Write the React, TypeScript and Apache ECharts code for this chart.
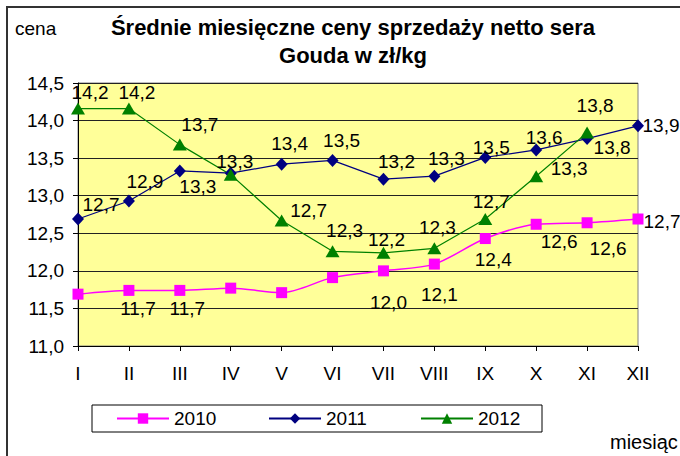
import React, { useEffect, useRef } from "react";
import * as echarts from "echarts";

const months = ["I", "II", "III", "IV", "V", "VI", "VII", "VIII", "IX", "X", "XI", "XII"];
const seriesNames = ["2010", "2011", "2012"];
const sales2010 = [11.69, 11.74, 11.74, 11.77, 11.71, 11.91, 12.0, 12.09, 12.43, 12.62, 12.64, 12.69];
const sales2011 = [12.69, 12.93, 13.33, 13.3, 13.42, 13.47, 13.22, 13.26, 13.51, 13.61, 13.76, 13.93];
const sales2012 = [14.16, 14.16, 13.68, 13.28, 12.67, 12.26, 12.24, 12.3, 12.69, 13.26, 13.84, null];
const yTicks = { min: 11, max: 14.5, interval: 0.5 };
const titleLines = ["Średnie miesięczne ceny sprzedaży netto sera", "Gouda w zł/kg"];

// label offsets (px, relative to point); null = no label
const off2010: ([number, number] | null)[] = [null, [9, 18.5], [7.5, 18.5], null, null, null, [5, 31.5], [5, 30], [8, 21], [23, 17], [21, 26], [24, 2]];
const off2011: ([number, number] | null)[] = [[23, -14.5], [16, -19], [18, 16], null, [8, -21], [9, -20], [13, -18], [12, -18], [6, -10], [8, -12], [25, 9], [23, 0]];
const off2012: ([number, number] | null)[] = [[12, -16], [8, -16], [20, -20], [4, -13], [27, -10], [12, -21], [3, -13], [3, -21], [6, -18], [33, -8], [8, -27], null];
const legendLefts = [116, 268, 420];

const FONT = "'Liberation Sans', Arial, sans-serif";
const fmt = (v: number) => v.toFixed(1).replace(".", ",");

function buildData(values: (number | null)[], offs: ([number, number] | null)[]) {
  return values.map((v, i) => {
    const o = offs[i];
    if (v === null) return null;
    return {
      value: v,
      label: o ? { show: true, offset: o } : { show: false },
    };
  });
}

export default function App() {
  const ref = useRef<HTMLDivElement>(null);
  useEffect(() => {
    if (!ref.current) return;
    const chart = echarts.init(ref.current, undefined, { renderer: "svg" });
    const labelBase = {
      show: true,
      position: "inside",
      color: "#000",
      fontSize: 19,
      fontFamily: FONT,
      align: "center",
      verticalAlign: "middle",
      formatter: (p: any) => fmt(p.value),
    };
    chart.setOption({
      animation: false,
      backgroundColor: "#fff",
      title: {
        text: titleLines.join("\n"),
        left: 348,
        top: 8,
        textAlign: "center",
        textStyle: { fontSize: 22, fontWeight: "bold", fontFamily: FONT, color: "#000", lineHeight: 28 },
      },
      legend: seriesNames.map((name, i) => ({
        data: [name],
        left: legendLefts[i],
        top: 409,
        padding: 0,
        itemWidth: 52,
        itemHeight: 13,
        textStyle: { fontSize: 19, fontFamily: FONT, color: "#000" },
      })),
      grid: {
        left: 78,
        right: 42,
        top: 83,
        bottom: 110,
        show: true,
        backgroundColor: "#FFFF99",
        borderColor: "#808080",
        borderWidth: 1,
        containLabel: false,
      },
      xAxis: {
        type: "category",
        data: months,
        boundaryGap: false,
        axisLine: { lineStyle: { color: "#000", width: 1 } },
        axisTick: { show: true, length: 5, lineStyle: { color: "#000" } },
        axisLabel: { color: "#000", fontSize: 19, fontFamily: FONT, margin: 18 },
        splitLine: { show: false },
      },
      yAxis: {
        type: "value",
        min: yTicks.min,
        max: yTicks.max,
        interval: yTicks.interval,
        axisLine: { show: true, lineStyle: { color: "#000", width: 1 } },
        axisTick: { show: true, length: 5, lineStyle: { color: "#000" } },
        axisLabel: { color: "#000", fontSize: 19, fontFamily: FONT, margin: 14, formatter: (v: number) => fmt(v) },
        splitLine: { show: true, lineStyle: { color: "#222", width: 1 } },
      },
      series: [
        {
          name: seriesNames[0],
          type: "line",
          data: buildData(sales2010, off2010),
          smooth: 0.3,
          clip: false,
          symbol: "rect",
          symbolSize: 11,
          color: "#FF00FF",
          lineStyle: { color: "#FF00FF", width: 1.5 },
          itemStyle: { color: "#FF00FF" },
          label: labelBase,
        },
        {
          name: seriesNames[1],
          type: "line",
          data: buildData(sales2011, off2011),
          clip: false,
          symbol: "diamond",
          symbolSize: [12, 13],
          color: "#000080",
          lineStyle: { color: "#000080", width: 1.2 },
          itemStyle: { color: "#000080" },
          label: labelBase,
        },
        {
          name: seriesNames[2],
          type: "line",
          data: buildData(sales2012, off2012),
          clip: false,
          symbol: "triangle",
          symbolSize: [14, 12],
          color: "#008000",
          lineStyle: { color: "#008000", width: 1.2 },
          itemStyle: { color: "#008000" },
          label: labelBase,
        },
      ],
      graphic: [
        {
          type: "rect",
          shape: { x: 7, y: 7, width: 700, height: 500 },
          style: { fill: "none", stroke: "#333", lineWidth: 2 },
          silent: true,
        },
        {
          type: "rect",
          shape: { x: 92, y: 405, width: 450, height: 27 },
          style: { fill: "#fff", stroke: "#000", lineWidth: 1 },
          z: -1,
          silent: true,
        },
        {
          type: "text",
          x: 15,
          y: 28,
          style: { text: "cena", fontSize: 19, fontFamily: FONT, fill: "#000", verticalAlign: "middle" },
        },
        {
          type: "text",
          x: 610,
          y: 442,
          style: { text: "miesiąc", fontSize: 20, fontFamily: FONT, fill: "#000", verticalAlign: "middle" },
        },
      ],
    });
    return () => chart.dispose();
  }, []);
  return (
    <div
      ref={ref}
      style={{ position: "fixed", left: 0, top: 0, width: 680, height: 456 }}
    />
  );
}
